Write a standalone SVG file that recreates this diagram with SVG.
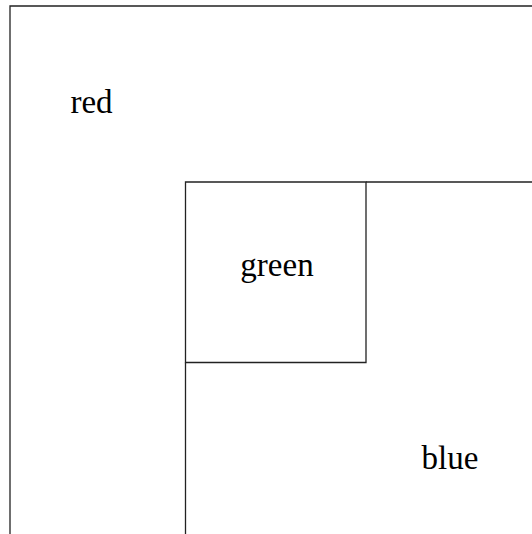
<svg xmlns="http://www.w3.org/2000/svg" width="532" height="534" viewBox="0 0 532 534">
<style>
.l{fill:none;stroke:#222;stroke-width:1.3}
.t{font-family:"Liberation Serif",serif;font-size:33px;fill:#000;text-anchor:middle}
</style>
<rect width="532" height="534" fill="#fff"/>
<g id="red">
<path class="l" d="M10,534 V6 H532"/>
<text class="t" x="91.5" y="113">red</text>
</g>
<g id="green">
<path class="l" d="M185.5,182 H366 V362.5 H185.5 Z"/>
<text class="t" x="277" y="276">green</text>
</g>
<g id="blue">
<path class="l" d="M366,182 H532 M185.5,362.5 V534"/>
<text class="t" x="450" y="469">blue</text>
</g>
</svg>
